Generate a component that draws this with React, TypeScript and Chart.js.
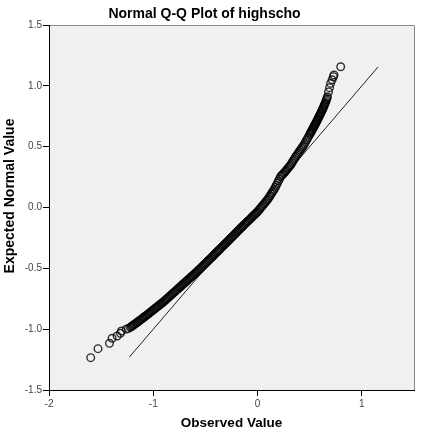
import React, { useEffect, useRef } from "react";
import { Chart, registerables } from "chart.js";

Chart.register(...registerables);

const titleText = "Normal Q-Q Plot of highscho";
const xTitle = "Observed Value";
const yTitle = "Expected Normal Value";

const xTicks = [-2, -1, 0, 1];
const yTicks = [-1.5, -1.0, -0.5, 0.0, 0.5, 1.0, 1.5];

const observed = [
  -1.6, -1.53, -1.42, -1.395, -1.347, -1.315, -1.305, -1.26, -1.24,
  -1.22, -1.21, -1.2, -1.19, -1.18, -1.17, -1.16, -1.15, -1.14, -1.13, -1.12, -1.11,
  -1.1, -1.09, -1.08, -1.07, -1.06, -1.05, -1.04, -1.03, -1.02, -1.01, -1.0, -0.99,
  -0.98, -0.97, -0.96, -0.95, -0.94, -0.93, -0.92, -0.91, -0.9, -0.89, -0.88, -0.87,
  -0.86, -0.85, -0.84, -0.83, -0.82, -0.81, -0.8, -0.79, -0.78, -0.77, -0.76, -0.75,
  -0.74, -0.73, -0.72, -0.71, -0.7, -0.69, -0.68, -0.67, -0.66, -0.65, -0.64, -0.63,
  -0.62, -0.61, -0.6, -0.59, -0.58, -0.57, -0.56, -0.55, -0.54, -0.53, -0.52, -0.51,
  -0.5, -0.49, -0.48, -0.47, -0.46, -0.45, -0.44, -0.43, -0.42, -0.41, -0.4, -0.39,
  -0.38, -0.37, -0.36, -0.35, -0.34, -0.33, -0.32, -0.31, -0.3, -0.29, -0.28, -0.27,
  -0.26, -0.25, -0.24, -0.23, -0.22, -0.21, -0.2, -0.19, -0.18, -0.17, -0.16, -0.15,
  -0.14, -0.13, -0.12, -0.11, -0.1, -0.09, -0.08, -0.07, -0.06, -0.05, -0.04, -0.03,
  -0.02, -0.01, 0.0, 0.01, 0.02, 0.03, 0.04, 0.05, 0.06, 0.07, 0.08, 0.09,
  0.1, 0.11, 0.12, 0.13, 0.14, 0.15, 0.16, 0.17, 0.18, 0.19, 0.2, 0.21,
  0.22, 0.23, 0.24, 0.25, 0.26, 0.27, 0.28, 0.29, 0.3, 0.31, 0.32, 0.33,
  0.34, 0.35, 0.36, 0.37, 0.38, 0.39, 0.4, 0.41, 0.42, 0.43, 0.44, 0.45,
  0.46, 0.47, 0.48, 0.49,
  0.5, 0.505, 0.51, 0.515, 0.52, 0.525, 0.53, 0.535, 0.54, 0.545, 0.55, 0.555,
  0.56, 0.565, 0.57, 0.575, 0.58, 0.585, 0.59, 0.595, 0.6, 0.605, 0.61, 0.615,
  0.62, 0.625, 0.63, 0.635, 0.64, 0.645, 0.65, 0.655, 0.66, 0.665, 0.67,
  0.68, 0.69, 0.7, 0.715, 0.727, 0.733, 0.797,
];
// Expected normal values (y)
const expected = [
  -1.234, -1.16, -1.116, -1.075, -1.056, -1.034, -1.015, -1.0, -0.995,
  -0.985, -0.979, -0.973, -0.966, -0.96, -0.954, -0.948, -0.941, -0.935, -0.928, -0.922, -0.915,
  -0.909, -0.902, -0.896, -0.889, -0.883, -0.876, -0.869, -0.862, -0.855, -0.848, -0.842, -0.835,
  -0.828, -0.821, -0.815, -0.808, -0.801, -0.794, -0.788, -0.781, -0.774, -0.766, -0.758, -0.75,
  -0.743, -0.735, -0.727, -0.72, -0.712, -0.704, -0.697, -0.689, -0.681, -0.673, -0.666, -0.658,
  -0.651, -0.643, -0.635, -0.627, -0.62, -0.612, -0.604, -0.596, -0.589, -0.581, -0.573, -0.565,
  -0.558, -0.55, -0.542, -0.534, -0.527, -0.518, -0.51, -0.502, -0.494, -0.485, -0.477, -0.468,
  -0.46, -0.451, -0.443, -0.434, -0.426, -0.418, -0.41, -0.401, -0.392, -0.383, -0.375, -0.366,
  -0.358, -0.349, -0.341, -0.332, -0.324, -0.315, -0.307, -0.298, -0.29, -0.281, -0.273, -0.264,
  -0.255, -0.246, -0.238, -0.229, -0.221, -0.212, -0.203, -0.194, -0.186, -0.177, -0.168, -0.16,
  -0.152, -0.143, -0.135, -0.126, -0.118, -0.11, -0.102, -0.093, -0.085, -0.076, -0.068, -0.06,
  -0.052, -0.043, -0.035, -0.024, -0.014, -0.003, 0.007, 0.017, 0.028, 0.038, 0.049, 0.059,
  0.07, 0.083, 0.096, 0.11, 0.123, 0.137, 0.15, 0.166, 0.183, 0.2, 0.218, 0.235,
  0.253, 0.262, 0.271, 0.28, 0.29, 0.3, 0.311, 0.321, 0.332, 0.342, 0.353, 0.368,
  0.382, 0.396, 0.41, 0.422, 0.435, 0.447, 0.46, 0.472, 0.484, 0.497, 0.509, 0.523,
  0.539, 0.554, 0.569, 0.585,
  0.601, 0.609, 0.617, 0.625, 0.632, 0.64, 0.648, 0.656, 0.664, 0.672, 0.68, 0.689,
  0.697, 0.705, 0.713, 0.722, 0.73, 0.739, 0.748, 0.757, 0.765, 0.774, 0.783, 0.792,
  0.8, 0.81, 0.82, 0.83, 0.84, 0.85, 0.86, 0.872, 0.885, 0.897, 0.91,
  0.95, 0.985, 1.02, 1.05, 1.075, 1.089, 1.157,
];

// Reference line endpoints (y = x)
const lineX = [-1.23, 1.155];
const lineY = [-1.23, 1.155];

const framePlugin = {
  id: "frame",
  beforeDatasetsDraw(chart: any) {
    const { ctx, chartArea: a } = chart;
    ctx.save();
    ctx.fillStyle = "#f0f0f0";
    ctx.fillRect(a.left, a.top, a.right - a.left, a.bottom - a.top);
    ctx.restore();
  },
  afterDraw(chart: any) {
    const { ctx, chartArea: a } = chart;
    ctx.save();
    ctx.strokeStyle = "#8a8a8a";
    ctx.lineWidth = 1;
    ctx.beginPath();
    ctx.moveTo(a.left, a.top + 0.5);
    ctx.lineTo(a.right + 0.5, a.top + 0.5);
    ctx.lineTo(a.right + 0.5, a.bottom);
    ctx.stroke();
    ctx.strokeStyle = "#000";
    ctx.beginPath();
    ctx.moveTo(a.left + 0.5, a.top);
    ctx.lineTo(a.left + 0.5, a.bottom + 0.5);
    ctx.lineTo(a.right + 1, a.bottom + 0.5);
    ctx.stroke();

    ctx.fillStyle = "#000";
    ctx.textAlign = "center";
    ctx.textBaseline = "middle";
    ctx.font = "bold 14px 'Liberation Sans', Arial, sans-serif";
    ctx.fillText(titleText, 204.5, 14);
    ctx.font = "bold 13.5px 'Liberation Sans', Arial, sans-serif";
    ctx.fillText(xTitle, (a.left + a.right) / 2, 423);
    ctx.translate(10.5, 196);
    ctx.rotate(-Math.PI / 2);
    ctx.font = "bold 14px 'Liberation Sans', Arial, sans-serif";
    ctx.fillText(yTitle, 0, 0);
    ctx.restore();
  },
};

export default function App() {
  const ref = useRef<HTMLCanvasElement | null>(null);
  useEffect(() => {
    if (!ref.current) return;
    const pts = observed.map((x, i) => ({ x, y: expected[i] }));
    const linePts = lineX.map((x, i) => ({ x, y: lineY[i] }));
    const tickFont = { family: "'Liberation Sans', Arial, sans-serif", size: 10 };
    const chart = new Chart(ref.current, {
      type: "scatter",
      data: {
        datasets: [
          {
            data: pts,
            pointStyle: "circle",
            pointRadius: 3.8,
            pointBorderWidth: 1.4,
            borderColor: "rgba(0,0,0,0.8)",
            backgroundColor: "rgba(0,0,0,0)",
            showLine: false,
          },
          {
            data: linePts,
            showLine: true,
            pointRadius: 0,
            borderColor: "#222",
            borderWidth: 1,
          },
        ],
      },
      options: {
        responsive: false,
        animation: false,
        layout: { padding: { top: 25, right: 12, left: 0, bottom: 0 } },
        plugins: { legend: { display: false }, tooltip: { enabled: false }, title: { display: false } },
        scales: {
          x: {
            type: "linear",
            min: -2,
            max: 1.5,
            afterBuildTicks: (s: any) => {
              s.ticks = xTicks.map((v) => ({ value: v }));
            },
            afterFit: (s: any) => {
              s.height = 45;
            },
            ticks: {
              color: "#444",
              font: tickFont,
              padding: 2,
              callback: (v: any) => String(v),
            },
            grid: { drawOnChartArea: false, drawTicks: true, tickLength: 6, color: "#000" },
            border: { display: false },
          },
          y: {
            type: "linear",
            min: -1.5,
            max: 1.5,
            afterBuildTicks: (s: any) => {
              s.ticks = yTicks.map((v) => ({ value: v }));
            },
            afterFit: (s: any) => {
              s.width = 49;
            },
            ticks: {
              color: "#444",
              font: tickFont,
              padding: 1,
              callback: (v: any) => Number(v).toFixed(1),
            },
            grid: { drawOnChartArea: false, drawTicks: true, tickLength: 6, color: "#000" },
            border: { display: false },
          },
        },
      },
      plugins: [framePlugin],
    });
    return () => chart.destroy();
  }, []);
  return (
    <div style={{ position: "fixed", left: 0, top: 0, width: 426, height: 435, background: "#fff" }}>
      <canvas ref={ref} width={426} height={435} />
    </div>
  );
}
